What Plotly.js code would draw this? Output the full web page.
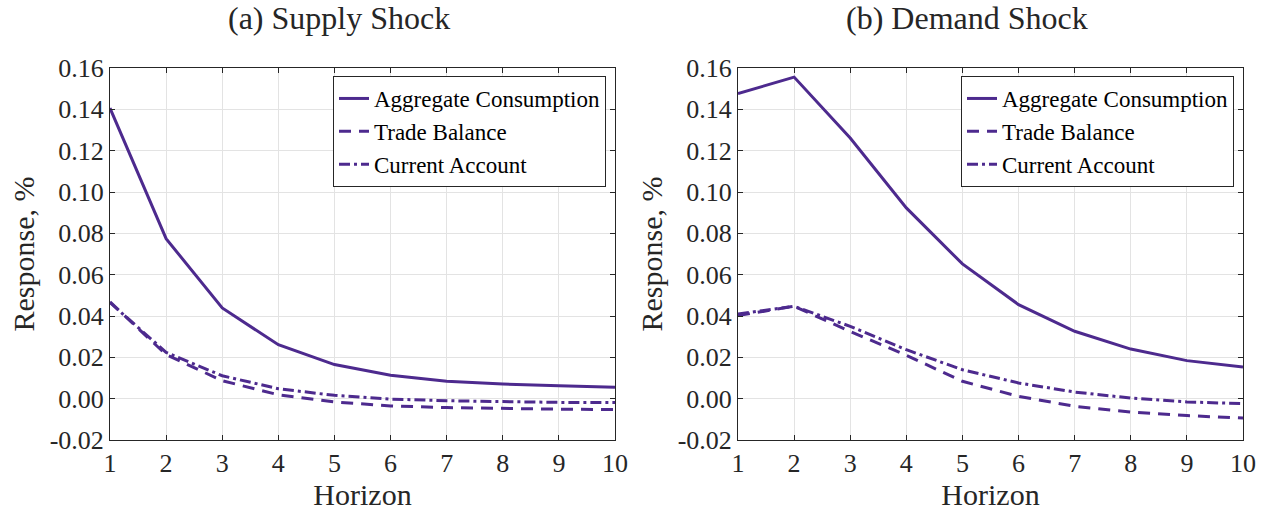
<!DOCTYPE html>
<html>
<head>
<meta charset="utf-8">
<script src="https://cdn.plot.ly/plotly-3.0.1.min.js"></script>
<style>html,body{margin:0;padding:0;background:#fff;}#chart{width:1268px;height:514px;}</style>
</head>
<body>
<div id="chart"></div>
<script>
// Data
const horizon = [1, 2, 3, 4, 5, 6, 7, 8, 9, 10];
const supplyConsumption = [0.1406, 0.0774, 0.0439, 0.0261, 0.0165, 0.0113, 0.0084, 0.0071, 0.0063, 0.0055];
const supplyTrade = [0.0468, 0.0213, 0.0087, 0.0019, -0.0016, -0.0035, -0.0043, -0.0048, -0.0051, -0.0053];
const supplyCurrent = [0.0465, 0.0224, 0.0111, 0.0048, 0.0016, -0.0002, -0.0010, -0.0015, -0.0018, -0.0019];
const demandConsumption = [0.1476, 0.1556, 0.1261, 0.0923, 0.0652, 0.0455, 0.0326, 0.0240, 0.0184, 0.0153];
const demandTrade = [0.0402, 0.0447, 0.0325, 0.0210, 0.0084, 0.0011, -0.0037, -0.0065, -0.0082, -0.0094];
const demandCurrent = [0.0410, 0.0447, 0.0350, 0.0237, 0.0140, 0.0076, 0.0032, 0.0003, -0.0016, -0.0024];
const seriesNames = ['Aggregate Consumption', 'Trade Balance', 'Current Account'];
const panelTitles = ['(a) Supply Shock', '(b) Demand Shock'];
const yTickVals = [-0.02, 0, 0.02, 0.04, 0.06, 0.08, 0.10, 0.12, 0.14, 0.16];
const yTickText = ['-0.02', '0.00', '0.02', '0.04', '0.06', '0.08', '0.10', '0.12', '0.14', '0.16'];
const xTickVals = [1, 2, 3, 4, 5, 6, 7, 8, 9, 10];

const purple = '#4d2a8e';
const ink = '#262626';
const FONT = 'Liberation Serif, DejaVu Serif, serif';
const dashes = ['solid', '12px,8px', '11px,4px,3px,4px'];

function mk(y, i, xa, ya, leg) {
  return {x: horizon, y: y, type: 'scatter', mode: 'lines', name: seriesNames[i],
    xaxis: xa, yaxis: ya, legend: leg,
    line: {color: purple, width: 3, dash: dashes[i]}};
}
const data = [
  mk(supplyConsumption, 0, 'x', 'y', 'legend'),
  mk(supplyTrade, 1, 'x', 'y', 'legend'),
  mk(supplyCurrent, 2, 'x', 'y', 'legend'),
  mk(demandConsumption, 0, 'x2', 'y2', 'legend2'),
  mk(demandTrade, 1, 'x2', 'y2', 'legend2'),
  mk(demandCurrent, 2, 'x2', 'y2', 'legend2')
];

const W = 1268, H = 514;
function xax(dom, anchor) {
  return {domain: dom, anchor: anchor, range: [1, 10], tickvals: xTickVals,
    ticks: 'inside', ticklen: 5, tickcolor: ink, showline: true, linecolor: ink, linewidth: 1,
    mirror: 'ticks', showgrid: true, gridcolor: '#e3e3e3', gridwidth: 1, zeroline: false,
    tickfont: {family: FONT, size: 26, color: ink},
    title: {text: 'Horizon', font: {family: FONT, size: 30, color: ink}, standoff: 4}};
}
function yax(anchor) {
  return {domain: [1 - 440 / H, 1 - 68 / H], anchor: anchor, range: [-0.02, 0.16],
    tickvals: yTickVals, ticktext: yTickText,
    ticks: 'inside', ticklen: 5, tickcolor: ink, showline: true, linecolor: ink, linewidth: 1,
    mirror: 'ticks', showgrid: true, gridcolor: '#e3e3e3', gridwidth: 1, zeroline: false,
    tickfont: {family: FONT, size: 26, color: ink},
    title: {text: 'Response, %', font: {family: FONT, size: 30, color: ink}, standoff: 6}};
}
function leg(xr, yt) {
  return {x: xr, y: yt, xanchor: 'right', yanchor: 'top', bgcolor: '#ffffff',
    bordercolor: ink, borderwidth: 1, font: {family: FONT, size: 23, color: '#000'},
    tracegroupgap: 0, itemwidth: 30};
}
const layout = {
  width: W, height: H, margin: {l: 0, r: 0, t: 0, b: 0},
  paper_bgcolor: '#fff', plot_bgcolor: '#fff', showlegend: true,
  xaxis: xax([110 / W, 615 / W], 'y'),
  yaxis: yax('x'),
  xaxis2: xax([738 / W, 1243 / W], 'y2'),
  yaxis2: yax('x2'),
  legend: leg(606 / W, 1 - 76 / H),
  legend2: leg(1234 / W, 1 - 76 / H),
  annotations: [
    {text: panelTitles[0], xref: 'paper', yref: 'paper', x: 339 / W, y: 1 - 18 / H,
      xanchor: 'center', yanchor: 'middle', showarrow: false, font: {family: FONT, size: 32, color: ink}},
    {text: panelTitles[1], xref: 'paper', yref: 'paper', x: 967 / W, y: 1 - 18 / H,
      xanchor: 'center', yanchor: 'middle', showarrow: false, font: {family: FONT, size: 32, color: ink}}
  ]
};
Plotly.newPlot('chart', data, layout, {displayModeBar: false, staticPlot: true});
</script>
</body>
</html>
